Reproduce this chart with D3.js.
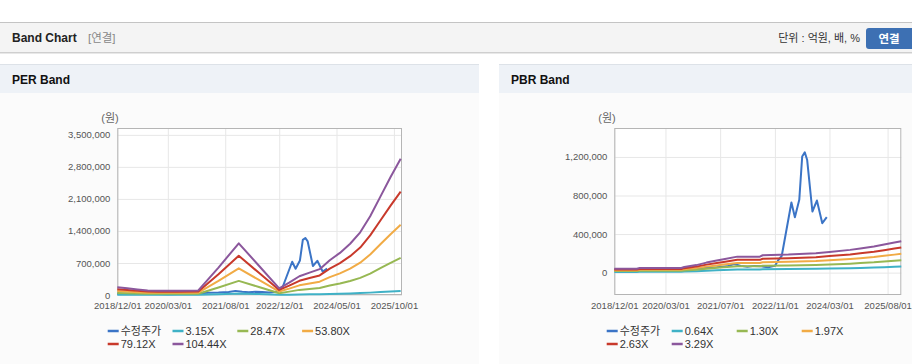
<!DOCTYPE html>
<html>
<head>
<meta charset="utf-8">
<script src="https://cdn.jsdelivr.net/npm/d3@7"></script>
<style>
  html, body { margin: 0; padding: 0; background: #fff; }
  svg { display: block; font-family: "Liberation Sans", "Noto Sans CJK KR", sans-serif; }
</style>
</head>
<body>
<div id="vis"></div>
<script>
// ---- data (values in 원) ----
const perDates = ["2018-12-01","2019-03-01","2019-06-01","2019-09-01","2019-12-01","2020-06-01","2020-12-01",
  "2021-06-01","2021-12-01","2022-06-01","2022-12-01","2023-03-01","2023-06-01","2023-09-01","2023-12-01",
  "2024-03-01","2024-06-01","2024-09-01","2024-12-01","2025-03-01","2025-06-01","2025-09-01","2025-12-01"];
const per315  = [5100,4400,3700,3000,2800,2800,3000,18100,34100,19300,4400,8100,12400,14800,17000,22900,27700,33800,41300,51900,64800,77800,89900];
const per2847 = [45800,39500,33300,27300,25100,25100,27300,163600,308000,174500,39800,73600,111800,133600,154000,207200,250800,305300,373500,468900,586100,703300,812300];
const per5380 = [86500,74700,62800,51500,47400,47400,51500,309100,582100,329700,75200,139100,211200,252400,291000,391500,473900,576900,705700,886000,1107500,1329000,1535000];
const per7912 = [127300,109900,92400,75800,69700,69700,75800,454600,856100,484900,110600,204600,310600,371200,428000,575800,697000,848500,1037900,1303100,1628800,1954600,2257600];
const per10444 = [168000,145000,122000,100000,92000,92000,100000,600000,1130000,640000,146000,270000,410000,490000,565000,760000,920000,1120000,1370000,1720000,2150000,2580000,2980000];

const pbrDates = ["2018-12-01","2019-06-20","2019-07-15","2020-07-20","2020-08-15","2020-12-01","2021-03-01",
  "2021-06-01","2021-08-01","2021-12-01","2022-06-20","2022-07-15","2023-03-01","2023-11-01","2024-03-01",
  "2024-09-01","2024-12-01","2025-04-01","2025-07-01","2025-10-01","2025-12-01"];
const pbr064 = [7800,7800,9300,9300,11300,15200,20200,24300,27000,32300,32300,35000,36400,39100,41800,45900,48600,52500,56600,60700,63400];
const pbr130 = [15800,15800,19000,19000,22900,30800,41100,49400,54900,65600,65600,71100,73900,79400,84900,93200,98800,106700,115000,123300,128800];
const pbr197 = [24000,24000,28700,28700,34700,46700,62300,74900,83200,99400,99400,107800,112000,120400,128700,141300,149700,161700,174300,186800,195200];
const pbr263 = [32000,32000,38400,38400,46400,62400,83100,99900,111100,132700,132700,143900,149500,160700,171900,188700,199900,215800,232600,249400,260600];
const pbr329 = [40000,40000,48000,48000,58000,78000,104000,125000,139000,166000,166000,180000,187000,201000,215000,236000,250000,270000,291000,312000,326000];

const priceDates = ["2018-12-01","2019-03-01","2019-06-01","2019-09-01","2019-12-01","2020-03-01","2020-06-01",
  "2020-09-01","2020-12-01","2021-03-01","2021-06-01","2021-09-01","2021-11-01","2022-01-01","2022-03-01",
  "2022-05-01","2022-07-01","2022-09-01","2022-11-01","2022-12-01","2023-01-01","2023-03-28","2023-04-28",
  "2023-06-06","2023-07-02","2023-07-25","2023-08-15","2023-10-01","2023-11-10","2023-12-28","2024-02-06"];
const price = [30000,28000,25000,22000,20000,18000,22000,28000,40000,50000,55000,65000,90000,70000,60000,
  70000,65000,55000,70000,130000,175000,727000,575000,755000,1205000,1247000,1171000,634000,748000,513000,575000];

const perLabels = ["수정주가","3.15X","28.47X","53.80X","79.12X","104.44X"];
const pbrLabels = ["수정주가","0.64X","1.30X","1.97X","2.63X","3.29X"];
const colors = ["#3b74c6","#3fb1c6","#97b853","#f1ab45","#c8392b","#8b579c"];

const perTicks = ["2018-12-01","2020-03-01","2021-08-01","2022-12-01","2024-05-01","2025-10-01"];
const pbrTicks = ["2018-12-01","2020-03-01","2021-07-01","2022-11-01","2024-03-01","2025-08-01"];
const perYTicks = [0,700000,1400000,2100000,2800000,3500000];
const pbrYTicks = [0,400000,800000,1200000];

const parse = d3.timeParse("%Y-%m-%d");
const fmtTick = d3.timeFormat("%Y/%m/%d");

const W = 912, H = 364;
const svg = d3.select("#vis").append("svg").attr("width", W).attr("height", H);

// ---- page header ----
svg.append("rect").attr("x", 0).attr("y", 22).attr("width", W).attr("height", 31).attr("fill", "#f4f4f4");
svg.append("line").attr("x1", 0).attr("x2", W).attr("y1", 22.5).attr("y2", 22.5).attr("stroke", "#c4c4c4");
svg.append("line").attr("x1", 0).attr("x2", W).attr("y1", 52.5).attr("y2", 52.5).attr("stroke", "#cfcfcf");
svg.append("line").attr("x1", 0).attr("x2", W).attr("y1", 53.5).attr("y2", 53.5).attr("stroke", "#e8e8e8");
svg.append("text").attr("x", 12).attr("y", 42).attr("font-size", 12).attr("font-weight", "bold")
  .attr("fill", "#222").text("Band Chart");
svg.append("text").attr("x", 88).attr("y", 42).attr("font-size", 11.5).attr("fill", "#888").text("[연결]");
svg.append("text").attr("x", 860).attr("y", 42).attr("font-size", 11).attr("fill", "#333")
  .attr("text-anchor", "end").text("단위 : 억원, 배, %");
svg.append("rect").attr("x", 866).attr("y", 28).attr("width", 50).attr("height", 21).attr("rx", 3)
  .attr("fill", "#3d70b3");
svg.append("text").attr("x", 889).attr("y", 43).attr("font-size", 11.5).attr("font-weight", "bold")
  .attr("fill", "#fff").attr("text-anchor", "middle").text("연결");

// ---- one band panel ----
function drawPanel(o) {
  const p = svg.append("g");
  p.append("rect").attr("x", o.px).attr("y", 64).attr("width", o.pw).attr("height", H - 64).attr("fill", "#fbfbfb");
  p.append("rect").attr("x", o.px).attr("y", 64).attr("width", o.pw).attr("height", 29).attr("fill", "#eef2f7");
  p.append("line").attr("x1", o.px).attr("x2", o.px + o.pw).attr("y1", 64.5).attr("y2", 64.5).attr("stroke", "#dde2e8");
  p.append("text").attr("x", o.px + 12).attr("y", 84).attr("font-size", 12).attr("font-weight", "bold")
    .attr("fill", "#111").text(o.title);

  const x = d3.scaleTime().domain([parse("2018-12-01"), parse(o.xEnd)]).range([o.left, o.right]);
  const y = d3.scaleLinear().domain(o.yDomain).range([295, 128]);

  p.append("rect").attr("x", o.left).attr("y", 128).attr("width", o.right - o.left).attr("height", 167)
    .attr("fill", "#fff");

  // grid
  p.append("g").attr("transform", "translate(0,295)")
    .call(d3.axisBottom(x).tickValues(o.xTicks.map(parse)).tickSize(-167).tickFormat(fmtTick).tickPadding(7))
    .call(g => g.select(".domain").remove())
    .call(g => g.selectAll("line").attr("stroke", "#e7e7e7"))
    .call(g => g.selectAll("text").attr("fill", "#555").attr("font-size", 9.5)
      .attr("font-family", "Liberation Sans, sans-serif"));

  p.append("g").attr("transform", `translate(${o.left},0)`)
    .call(d3.axisLeft(y).tickValues(o.yTicks).tickSize(-(o.right - o.left)).tickFormat(d3.format(",")).tickPadding(7))
    .call(g => g.select(".domain").remove())
    .call(g => g.selectAll("line").attr("stroke", "#e7e7e7"))
    .call(g => g.selectAll("text").attr("fill", "#555").attr("font-size", 9.5)
      .attr("font-family", "Liberation Sans, sans-serif"));

  p.append("rect").attr("x", o.left + 0.5).attr("y", 128.5).attr("width", o.right - o.left - 1).attr("height", 166)
    .attr("fill", "none").attr("stroke", "#b5b5b5");

  p.append("text").attr("x", o.left - 16).attr("y", 122).attr("font-size", 11).attr("fill", "#666")
    .text("(원)");

  const line = d3.line().x(d => x(d[0])).y(d => y(d[1]));
  const series = [
    { dates: priceDates, vals: price },
    ...o.bands.map(b => ({ dates: o.bandDates, vals: b }))
  ];
  // price drawn first, bands over it
  series.forEach((s, i) => {
    p.append("path")
      .datum(s.dates.map((d, j) => [parse(d), s.vals[j]]))
      .attr("fill", "none").attr("stroke", colors[i]).attr("stroke-width", 2)
      .attr("stroke-linejoin", "round")
      .attr("d", line);
  });

  // legend
  o.labels.forEach((lab, i) => {
    const lx = o.legX + (i % 4) * o.legStep;
    const ly = i < 4 ? 331 : 344;
    p.append("line").attr("x1", lx).attr("x2", lx + 11).attr("y1", ly).attr("y2", ly)
      .attr("stroke", colors[i]).attr("stroke-width", 2.5);
    p.append("text").attr("x", lx + 13).attr("y", ly + 4).attr("font-size", 11).attr("fill", "#333")
      .text(lab);
  });
}

drawPanel({
  px: 0, pw: 479, title: "PER Band", left: 117.3, right: 402, xEnd: "2025-12-13",
  yDomain: [0, 3650000], yTicks: perYTicks, xTicks: perTicks,
  bandDates: perDates, bands: [per315, per2847, per5380, per7912, per10444],
  labels: perLabels, legX: 107.7, legStep: 64.8
});
drawPanel({
  px: 499, pw: 413, title: "PBR Band", left: 614.3, right: 901.3, xEnd: "2025-12-01",
  yDomain: [-232000, 1500000], yTicks: pbrYTicks, xTicks: pbrTicks,
  bandDates: pbrDates, bands: [pbr064, pbr130, pbr197, pbr263, pbr329],
  labels: pbrLabels, legX: 606.7, legStep: 65
});
</script>
</body>
</html>
